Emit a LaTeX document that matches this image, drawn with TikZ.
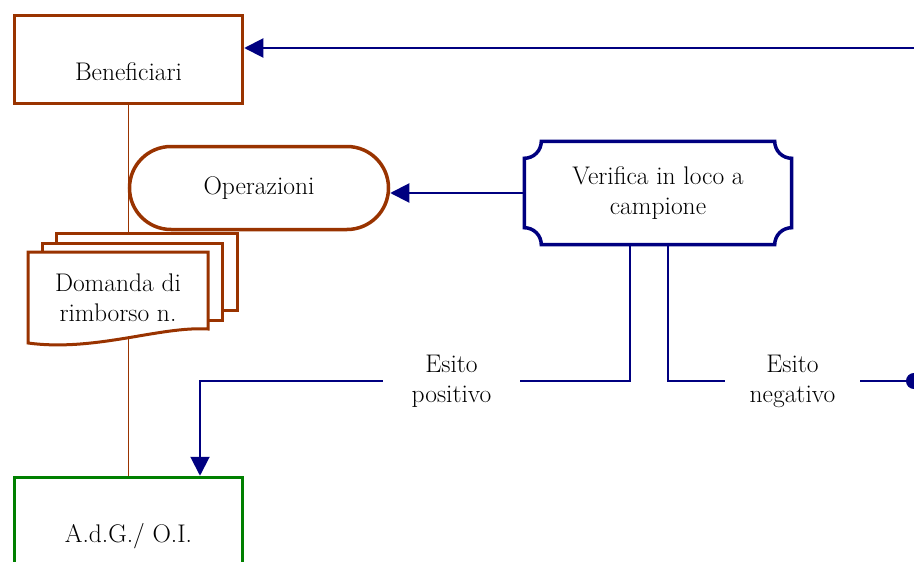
\documentclass[tikz,border=0pt]{standalone}
\usepackage{fontspec}
\usetikzlibrary{arrows.meta}

\definecolor{brick}{HTML}{993300}
\definecolor{navy}{HTML}{000080}
\definecolor{leaf}{HTML}{008000}

\begin{document}
\begin{tikzpicture}[x=1pt, y=1pt,
    every node/.style={font=\fontsize{25.5}{30}\selectfont, align=center},
    actor/.style={rectangle, draw=#1, line width=3.5pt, fill=white,
      minimum width=228pt, minimum height=88pt, text height=41pt, text depth=0pt},
    oper/.style={rectangle, rounded corners=41.5pt, draw=brick, line width=3.5pt,
      fill=white, minimum width=259pt, minimum height=83pt},
    doc/.style={draw=brick, line width=3pt, fill=white},
    outcome/.style={inner sep=0pt, minimum width=#1},
    flow/.style={navy, line width=2pt},
    tip/.style={-{Triangle[length=19pt, width=19pt]}}
  ]
    \clip (0,0) rectangle (914,-562);

    \node[actor=brick] (benef) at (128.5,-59.5) {Beneficiari};
    \node[actor=leaf] (adg) at (128.5,-521.5) {A.d.G./ O.I.};
    \draw[brick, line width=1.5pt] (benef) -- (adg);

    \node[oper] (oper) at (259,-188) {Operazioni};

    % pila di domande
    \draw[doc] (56,-233) rectangle (237,-310);
    \draw[doc] (42,-243) rectangle (222,-320);
    \draw[doc] (28,-252) -- (208,-252) -- (208,-329)
      .. controls (160,-326) and (95,-352) .. (28,-343) -- cycle;
    \node (domanda) at (118,-298) {Domanda di\\rimborso n.};

    % verifica
    \node[minimum width=267pt, minimum height=103pt] (verifica) at (658,-193)
      {Verifica in loco a\\campione};
    \draw[navy, line width=3.5pt]
      ([xshift=17pt]verifica.north west) -- ([xshift=-17pt]verifica.north east)
      arc[start angle=180, end angle=270, radius=17pt]
      -- ([yshift=17pt]verifica.south east)
      arc[start angle=90, end angle=180, radius=17pt]
      -- ([xshift=17pt]verifica.south west)
      arc[start angle=0, end angle=90, radius=17pt]
      -- ([yshift=-17pt]verifica.north west)
      arc[start angle=270, end angle=360, radius=17pt] -- cycle;

    \node[outcome=137pt] (pos) at (451.5,-381) {Esito\\positivo};
    \node[outcome=135pt] (neg) at (792.5,-381) {Esito\\negativo};

    \coordinate (ritorno) at (914,-48);
    \coordinate (fine) at (922,-381);

    \draw[flow, tip] (ritorno) -- (ritorno -| benef.east);
    \draw[flow, tip] (verifica.west) -- (verifica.west -| oper.east);
    \draw[flow] ([xshift=-28pt]verifica.south) |- (pos);
    \draw[flow, tip] (pos) -| ([xshift=71.5pt]adg.north);
    \draw[flow] ([xshift=10pt]verifica.south) |- (neg);
    \draw[flow, -{Circle[length=16pt]}] (neg) -- (fine);
\end{tikzpicture}
\end{document}
